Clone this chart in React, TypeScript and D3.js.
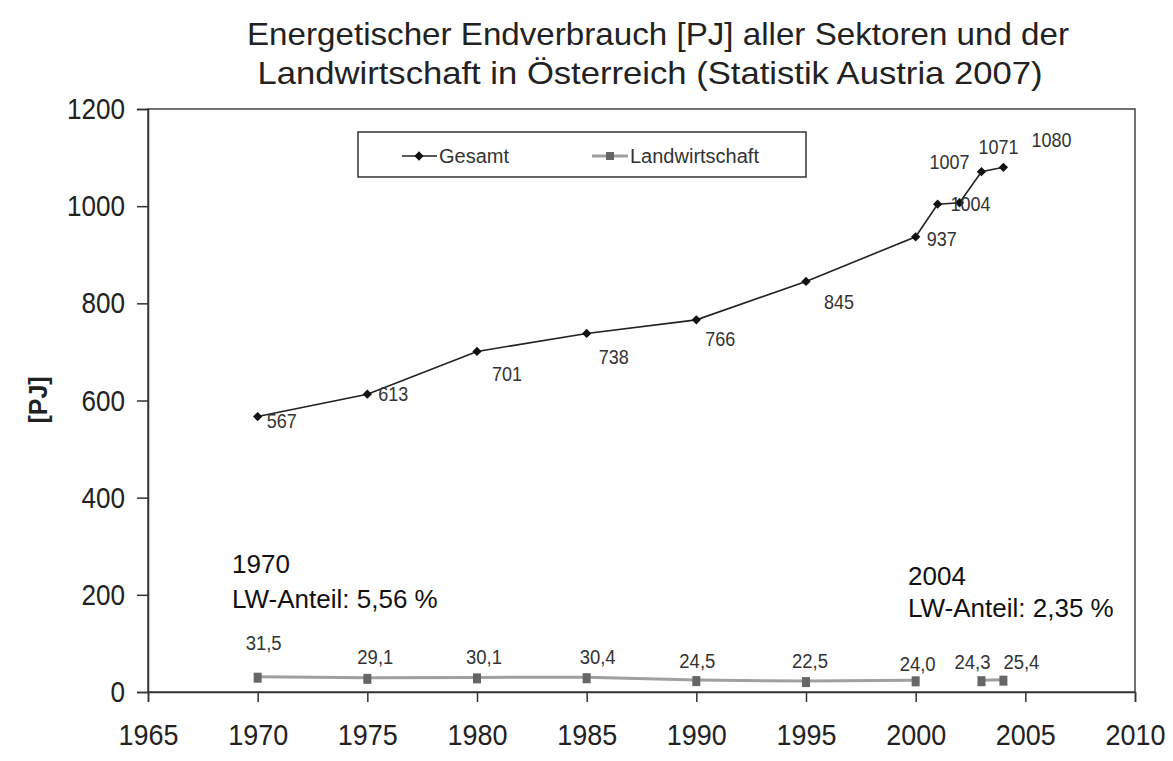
import React, { useRef, useEffect } from 'react';
import * as d3 from 'd3';

const years = [1970, 1975, 1980, 1985, 1990, 1995, 2000, 2001, 2002, 2003, 2004];
const gesamt = [567, 613, 701, 738, 766, 845, 937, 1004, 1007, 1071, 1080];
// Landwirtschaft has no values for 2001 and 2002
const landwirtschaft = [31.5, 29.1, 30.1, 30.4, 24.5, 22.5, 24.0, null, null, 24.3, 25.4];
const xTicks = [1965, 1970, 1975, 1980, 1985, 1990, 1995, 2000, 2005, 2010];
const yTicks = [0, 200, 400, 600, 800, 1000, 1200];

// label offsets (dx, dy) relative to the marker
const gesamtLabelOffsets = [
  [24, 11], [26, 7], [30, 30], [27, 31], [24, 26], [33, 28], [26, 9], [33, 7], [-10, -34], [17, -18], [48, -20],
];
const lwLabelOffsets = [
  [6, -27], [8, -14], [7, -13], [11, -13], [1, -12], [4, -13], [2, -9], null, null, [-9, -11], [18, -11],
];

const App = () => {
  const svgRef = useRef(null);

  useEffect(() => {
    const width = 1173;
    const height = 761;
    const font = 'Liberation Sans, Arial, sans-serif';

    const svg = d3.select(svgRef.current);
    svg.selectAll('*').remove();
    svg.attr('width', width).attr('height', height).style('font-family', font);

    svg.append('rect').attr('width', width).attr('height', height).attr('fill', '#fff');

    const x = d3.scaleLinear().domain([1965, 2010]).range([148, 1135]);
    const y = d3.scaleLinear().domain([0, 1200]).range([692, 109]);

    // title
    const title = svg.append('g').attr('fill', '#222').style('font-size', '32px').attr('text-anchor', 'middle');
    title.append('text').attr('x', 658).attr('y', 45)
      .attr('textLength', 822).attr('lengthAdjust', 'spacingAndGlyphs')
      .text('Energetischer Endverbrauch [PJ] aller Sektoren und der');
    title.append('text').attr('x', 650).attr('y', 84)
      .attr('textLength', 785).attr('lengthAdjust', 'spacingAndGlyphs')
      .text('Landwirtschaft in Österreich (Statistik Austria 2007)');

    // plot frame
    svg.append('rect')
      .attr('x', x(1965)).attr('y', y(1200))
      .attr('width', x(2010) - x(1965)).attr('height', y(0) - y(1200))
      .attr('fill', 'none').attr('stroke', '#444').attr('stroke-width', 1.5);

    const yAxis = svg.append('g')
      .attr('transform', `translate(${x(1965)},0)`)
      .call(d3.axisLeft(y).tickValues(yTicks).tickSize(11).tickPadding(12).tickFormat(d3.format('d')));
    yAxis.selectAll('line, path').attr('stroke', '#333').attr('stroke-width', 1.5);
    yAxis.selectAll('text').style('font-size', '30px').style('font-family', font).attr('fill', '#222')
      .attr('textLength', d => String(d).length * 14.5).attr('lengthAdjust', 'spacingAndGlyphs');

    const xAxis = svg.append('g')
      .attr('transform', `translate(0,${y(0)})`)
      .call(d3.axisBottom(x).tickValues(xTicks).tickSize(10).tickPadding(22).tickFormat(d3.format('d')));
    xAxis.selectAll('line, path').attr('stroke', '#333').attr('stroke-width', 1.5);
    xAxis.selectAll('text').style('font-size', '30px').style('font-family', font).attr('fill', '#222')
      .attr('textLength', 60).attr('lengthAdjust', 'spacingAndGlyphs');

    svg.append('text')
      .attr('transform', `translate(47,400) rotate(-90)`)
      .attr('text-anchor', 'middle')
      .style('font-size', '25px').style('font-weight', 'bold').attr('fill', '#222')
      .text('[PJ]');

    // Landwirtschaft line
    const lwData = years.map((yr, i) => ({ yr, v: landwirtschaft[i], off: lwLabelOffsets[i] }));
    const lwLine = d3.line()
      .defined(d => d.v != null)
      .x(d => x(d.yr)).y(d => y(d.v));
    svg.append('path').datum(lwData).attr('d', lwLine)
      .attr('fill', 'none').attr('stroke', '#a0a0a0').attr('stroke-width', 3);
    svg.selectAll('.lwm').data(lwData.filter(d => d.v != null)).enter()
      .append('rect')
      .attr('x', d => x(d.yr) - 4).attr('y', d => y(d.v) - 4)
      .attr('width', 8).attr('height', 10).attr('fill', '#666');
    svg.selectAll('.lwl').data(lwData.filter(d => d.v != null)).enter()
      .append('text')
      .attr('x', d => x(d.yr) + d.off[0]).attr('y', d => y(d.v) + d.off[1])
      .attr('text-anchor', 'middle').style('font-size', '20px').attr('fill', '#333')
      .attr('textLength', 36).attr('lengthAdjust', 'spacingAndGlyphs')
      .text(d => d.v.toFixed(1).replace('.', ','));

    // Gesamt line
    const gData = years.map((yr, i) => ({ yr, v: gesamt[i], off: gesamtLabelOffsets[i] }));
    const gLine = d3.line().x(d => x(d.yr)).y(d => y(d.v));
    svg.append('path').datum(gData).attr('d', gLine)
      .attr('fill', 'none').attr('stroke', '#222').attr('stroke-width', 1.6);
    const diamond = d3.symbol().type(d3.symbolDiamond2).size(55);
    svg.selectAll('.gm').data(gData).enter()
      .append('path')
      .attr('d', diamond)
      .attr('transform', d => `translate(${x(d.yr)},${y(d.v)})`)
      .attr('fill', '#111');
    svg.selectAll('.gl').data(gData).enter()
      .append('text')
      .attr('x', d => x(d.yr) + d.off[0]).attr('y', d => y(d.v) + d.off[1])
      .attr('text-anchor', 'middle').style('font-size', '21px').attr('fill', '#333')
      .attr('textLength', d => String(d.v).length * 10).attr('lengthAdjust', 'spacingAndGlyphs')
      .text(d => d.v);

    // legend
    const lg = svg.append('g');
    lg.append('rect').attr('x', 358).attr('y', 132).attr('width', 448).attr('height', 45)
      .attr('fill', '#fff').attr('stroke', '#333').attr('stroke-width', 1.5);
    lg.append('line').attr('x1', 402).attr('x2', 437).attr('y1', 156).attr('y2', 156)
      .attr('stroke', '#222').attr('stroke-width', 1.6);
    lg.append('path').attr('d', diamond).attr('transform', 'translate(419,156)').attr('fill', '#111');
    lg.append('text').attr('x', 439).attr('y', 163).style('font-size', '20px').attr('fill', '#333').text('Gesamt');
    lg.append('line').attr('x1', 592).attr('x2', 628).attr('y1', 156).attr('y2', 156)
      .attr('stroke', '#a0a0a0').attr('stroke-width', 3);
    lg.append('rect').attr('x', 606).attr('y', 152).attr('width', 8).attr('height', 8).attr('fill', '#666');
    lg.append('text').attr('x', 630).attr('y', 163).style('font-size', '20px').attr('fill', '#333').text('Landwirtschaft');

    // annotations
    const ann = svg.append('g').style('font-size', '26px').attr('fill', '#111');
    ann.append('text').attr('x', 232).attr('y', 573).text('1970');
    ann.append('text').attr('x', 232).attr('y', 608).text('LW-Anteil: 5,56 %');
    ann.append('text').attr('x', 908).attr('y', 585).text('2004');
    ann.append('text').attr('x', 908).attr('y', 617).text('LW-Anteil: 2,35 %');
  }, []);

  return <svg ref={svgRef} style={{ position: 'absolute', left: 0, top: 0 }}></svg>;
};

export default App;
